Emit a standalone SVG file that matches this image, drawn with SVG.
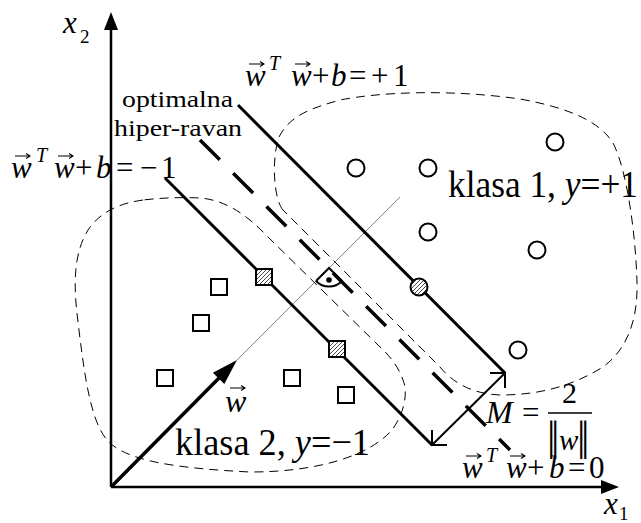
<svg xmlns="http://www.w3.org/2000/svg" width="641" height="523" viewBox="0 0 641 523">
<defs>
<style>
.ax{stroke:#000;stroke-width:2.5;fill:none}
.sol{stroke:#000;stroke-width:3;fill:none}
.mid{stroke:#000;stroke-width:3.5;stroke-dasharray:28 19;fill:none}
.reg{stroke:#000;stroke-width:1;stroke-dasharray:9 6;fill:none}
.thin{stroke:#333;stroke-width:0.6;fill:none}
.pt{fill:#fff;stroke:#000;stroke-width:2}
.hp{fill:url(#hatch);stroke:#000;stroke-width:2}
.vec{stroke:#000;stroke-width:1.1;fill:none}
.eq{font-size:31px}
.sup{font-size:20px;font-style:italic}
.it{font-style:italic}
</style>
<pattern id="hatch" patternUnits="userSpaceOnUse" width="4" height="4">
<rect width="4" height="4" fill="#fff"/>
<path d="M-1,1 L1,-1 M0,4 L4,0 M3,5 L5,3" stroke="#333" stroke-width="0.9"/>
</pattern>
<path id="vecarrow" d="M0,0 L15,0 M11,-2.5 L15,0 L11,2.5"/>
</defs>

<g id="regions">
<path id="class1-region" class="reg" d="M283,210 C274,200 271,160 279,137 C290,115 312,108 340,100 C380,92 450,89 520,99 C570,108 600,122 613,143 C628,172 636,240 637,283 C638,322 626,350 603,367 C572,386 540,395 500,395 C472,394 452,382 440,367 Z"/>
<path id="class2-region" class="reg" d="M143,200 C120,203 100,212 88,230 C72,256 74,290 78,322 C84,372 90,420 107,440 C125,460 170,468 250,472 C320,472 370,455 392,430 C405,412 408,392 403,380 C398,366 390,356 378,345 L267,236 C246,214 225,200 200,198 C180,197 160,198 143,200 Z"/>
</g>

<g id="connectors">
<line class="ax" x1="111" y1="487" x2="111" y2="28"/>
<polygon points="111,12 104,30 118,30" fill="#000"/>
<line class="ax" x1="111" y1="487" x2="603" y2="487"/>
<polygon points="619,487 601,480 601,494" fill="#000"/>
<line class="thin" x1="237" y1="360" x2="400" y2="197"/>
<line x1="111" y1="487" x2="221" y2="376" stroke="#000" stroke-width="3.5"/>
<polygon points="237,360 224.3,384.1 212.9,372.7" fill="#000"/>
<line id="plane-plus" class="sol" x1="238" y1="105" x2="505" y2="373"/>
<line id="plane-minus" class="sol" x1="165" y1="178" x2="432" y2="445"/>
<line id="plane-opt" class="mid" x1="200" y1="140" x2="510" y2="450"/>
<line x1="432" y1="445" x2="505" y2="373" stroke="#000" stroke-width="2"/>
<polyline points="490,373 505,373 505,388" fill="none" stroke="#000" stroke-width="2"/>
<polyline points="432,430 432,445 447,445" fill="none" stroke="#000" stroke-width="2"/>
<g id="right-angle">
<polyline points="316,281 329,268 342,281" fill="none" stroke="#000" stroke-width="2"/>
<path d="M316,281 A18,18 0 0 0 342,281" fill="none" stroke="#000" stroke-width="2"/>
<circle cx="329" cy="280" r="2.8" fill="#000"/>
</g>
</g>

<g id="class1-points">
<circle class="pt" cx="356" cy="168" r="8.5"/>
<circle class="pt" cx="428" cy="168" r="8.5"/>
<circle class="pt" cx="555" cy="142" r="8.5"/>
<circle class="pt" cx="428" cy="232" r="8.5"/>
<circle class="pt" cx="537" cy="250" r="8.5"/>
<circle class="pt" cx="518" cy="350" r="8.5"/>
<circle class="hp" cx="419" cy="287" r="8.5"/>
</g>

<g id="class2-points">
<rect class="pt" x="211" y="279" width="16" height="16"/>
<rect class="pt" x="193" y="315" width="16" height="16"/>
<rect class="pt" x="157" y="370" width="16" height="16"/>
<rect class="pt" x="284" y="370" width="16" height="16"/>
<rect class="pt" x="338" y="387" width="16" height="16"/>
<rect class="hp" x="256" y="269" width="16" height="16"/>
<rect class="hp" x="329" y="341" width="16" height="16"/>
</g>

<g id="labels" font-family="'Liberation Serif', 'Times New Roman', serif" fill="#000">
<text id="x2" y="33"><tspan x="63" class="it" font-size="31">x</tspan><tspan x="80" y="43" font-size="19">2</tspan></text>
<text id="x1" y="514"><tspan x="604" class="it" font-size="31">x</tspan><tspan x="619" y="520" font-size="19">1</tspan></text>

<text id="eq-plus" class="eq" y="86"><tspan x="245" class="it">w</tspan><tspan x="269" y="70" class="sup">T</tspan><tspan x="291" y="86" class="it">w</tspan><tspan x="312">+</tspan><tspan x="331" class="it">b</tspan><tspan x="349">=</tspan><tspan x="371">+</tspan><tspan x="393">1</tspan></text>

<text id="eq-minus" class="eq" y="178"><tspan x="11" class="it">w</tspan><tspan x="36" y="162" class="sup">T</tspan><tspan x="54" y="178" class="it">w</tspan><tspan x="75">+</tspan><tspan x="96" class="it">b</tspan><tspan x="116">=</tspan><tspan x="140">−</tspan><tspan x="161">1</tspan></text>

<text id="eq-zero" class="eq" y="478"><tspan x="462" class="it">w</tspan><tspan x="486" y="462" class="sup">T</tspan><tspan x="506" y="478" class="it">w</tspan><tspan x="527">+</tspan><tspan x="549" class="it">b</tspan><tspan x="568">=</tspan><tspan x="589">0</tspan></text>

<text id="opt1" x="122" y="107" font-size="23" textLength="111" lengthAdjust="spacingAndGlyphs">optimalna</text>
<text id="opt2" x="114" y="136" font-size="23" textLength="128" lengthAdjust="spacingAndGlyphs">hiper-ravan</text>

<text id="klasa1" x="448" y="197" font-size="38" textLength="190" lengthAdjust="spacingAndGlyphs">klasa 1, <tspan class="it">y</tspan>=+1</text>
<text id="klasa2" x="175" y="455" font-size="38" textLength="195" lengthAdjust="spacingAndGlyphs">klasa 2, <tspan class="it">y</tspan>=−1</text>

<text id="wlabel" x="225" y="412" font-size="32" class="it">w</text>

<g id="margin">
<text x="486" y="423" font-size="32" class="it">M</text>
<text x="522" y="423" font-size="31">=</text>
<text x="562" y="403" font-size="30">2</text>
<line x1="548" y1="413" x2="592" y2="413" stroke="#000" stroke-width="1.5"/>
<text y="450" font-size="42" letter-spacing="-4.5"><tspan x="547">||</tspan></text>
<text x="559" y="450" font-size="29" class="it">w</text>
<text y="450" font-size="42" letter-spacing="-4.5"><tspan x="577">||</tspan></text>
</g>
</g>

<g id="vector-arrows" class="vec">
<use href="#vecarrow" x="249" y="64"/>
<use href="#vecarrow" x="295" y="64"/>
<use href="#vecarrow" x="15" y="156"/>
<use href="#vecarrow" x="58" y="156"/>
<use href="#vecarrow" x="466" y="456"/>
<use href="#vecarrow" x="510" y="456"/>
<use href="#vecarrow" x="230" y="388"/>
</g>
</svg>
